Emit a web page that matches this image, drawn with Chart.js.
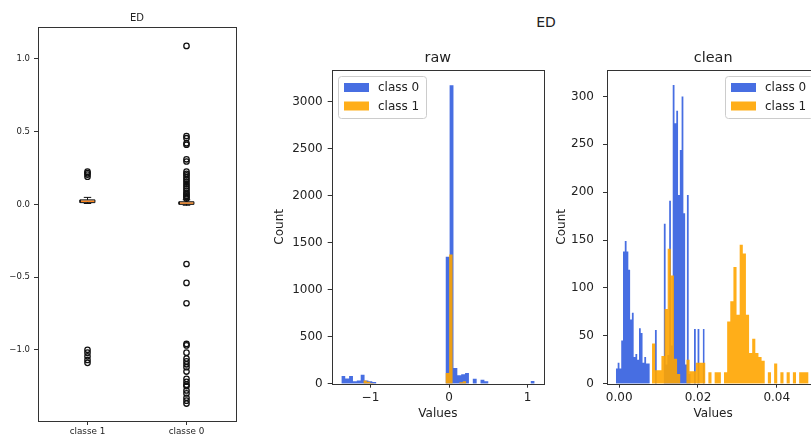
<!DOCTYPE html>
<html>
<head>
<meta charset="utf-8">
<script src="https://cdn.jsdelivr.net/npm/chart.js@4.4.1/dist/chart.umd.min.js"></script>
<style>
  body { margin: 0; width: 811px; height: 437px; overflow: hidden; background: #fff; position: relative; font-family: "DejaVu Sans", sans-serif; }
  canvas { position: absolute; top: 0; }
  #suptitle { position: absolute; left: 446px; top: 14px; width: 200px; text-align: center; font-size: 14px; line-height: 17px; color: #222; }
</style>
</head>
<body>
<div id="suptitle">ED</div>
<canvas id="boxChart" width="250" height="437" style="left:0px"></canvas>
<canvas id="rawChart" width="284" height="437" style="left:266px"></canvas>
<canvas id="cleanChart" width="280" height="437" style="left:550px"></canvas>
<script>
// boxplot (left panel)
const boxLabels = ['classe 1', 'classe 0'];
const boxPos = [1, 2];
const boxQ1 = [0.012, 0.0];
const boxMedian = [0.022, 0.009];
const boxQ3 = [0.031, 0.018];
const boxLow = [0.006, -0.006];
const boxHigh = [0.048, 0.032];
const outliers1 = [0.225, 0.215, 0.205, 0.19, -1.0, -1.02, -1.045, -1.07, -1.09];
const outliers0 = [1.09, 0.47, 0.455, 0.42, 0.41, 0.31, 0.295, 0.225, 0.21, 0.2, 0.185, 0.17, 0.155,
  0.14, 0.125, 0.11, 0.095, 0.08, 0.07, 0.06, 0.05, 0.04, -0.41, -0.54, -0.68, -0.96, -0.97, -1.02,
  -1.06, -1.08, -1.1, -1.12, -1.15, -1.2, -1.22, -1.24, -1.25, -1.28, -1.3, -1.33, -1.35, -1.37];
const boxYTicks = [-1.0, -0.5, 0.0, 0.5, 1.0];

// raw histogram
const rawXTicks = [-1, 0, 1];
const rawYTicks = [0, 500, 1000, 1500, 2000, 2500, 3000];
const rawRange0 = [-1.37, 1.09];
const rawCounts0 = [82, 55, 82, 25, 35, 96, 35, 25, 18, 0, 0, 0, 0, 0, 0, 0, 0, 0, 0, 0, 0, 0, 0, 0, 0, 0, 0,
  1350, 3175, 167, 89, 100, 114, 0, 53, 0, 43, 25, 0, 0, 0, 0, 0, 0, 0, 0, 0, 0, 0, 28];
const rawRange1 = [-1.09, 0.22];
const rawCounts1 = [35, 20, 8, 0, 0, 0, 0, 0, 0, 0, 0, 0, 0, 0, 0, 0, 0, 0, 0, 0, 0, 0, 0, 0,
  114, 1375, 0, 0, 15, 25];

// clean histogram
const cleanXTicks = [0.0, 0.02, 0.04];
const cleanYTicks = [0, 50, 100, 150, 200, 250, 300];
const cleanRange0 = [-0.00084, 0.0217];
const cleanCounts0 = [16, 22, 16, 45, 138, 149, 138, 119, 67, 74, 28, 31, 25, 58, 53, 22, 28, 21, 21, 0, 0, 0,
  56, 0, 0, 0, 0, 167, 20, 30, 191, 40, 312, 272, 285, 197, 244, 300, 178, 20, 197, 10, 0, 0, 57, 0, 57, 0, 0, 57];
const cleanRange1 = [0.00833, 0.04807];
const cleanCounts1 = [42, 14, 14, 29, 78, 141, 113, 26, 10, 0, 0, 25, 13, 13, 22, 22, 22, 0, 12, 0, 12, 12, 0,
  12, 65, 86, 122, 72, 145, 136, 72, 32, 47, 32, 28, 24, 0, 12, 0, 21, 0, 12, 0, 12, 0, 12, 0, 12, 12, 12];

const blue = 'rgba(65, 105, 225, 0.97)';
const orange = 'rgba(255, 165, 0, 0.9)';
const textColor = '#222';
const font = '"DejaVu Sans", sans-serif';

function fmt(v, digits) {
  return v.toFixed(digits).replace('-', '\u2212');
}

function histPoints(range, counts) {
  const w = (range[1] - range[0]) / counts.length;
  const pts = [{x: range[0], y: 0}];
  counts.forEach((c, i) => pts.push({x: range[0] + i * w, y: c}));
  pts.push({x: range[1], y: counts[counts.length - 1]});
  pts.push({x: range[1], y: 0});
  return pts;
}

// order: higher is drawn first, so class 1 ends up on top like in matplotlib
function histDataset(label, range, counts, color, order) {
  return {
    label: label,
    data: histPoints(range, counts),
    backgroundColor: color,
    borderWidth: 0,
    pointRadius: 0,
    fill: 'origin',
    stepped: true,
    order: order
  };
}

// axes frame on all four sides
const frame = {
  id: 'frame',
  afterDatasetsDraw(chart) {
    const a = chart.chartArea;
    const ctx = chart.ctx;
    ctx.save();
    ctx.strokeStyle = '#333';
    ctx.lineWidth = 1;
    ctx.strokeRect(Math.round(a.left) + 0.5, Math.round(a.top) + 0.5, Math.round(a.right - a.left), Math.round(a.bottom - a.top));
    ctx.restore();
  }
};

const axTitle = {
  id: 'axTitle',
  afterDraw(chart, args, opts) {
    const a = chart.chartArea;
    const ctx = chart.ctx;
    ctx.save();
    ctx.fillStyle = textColor;
    ctx.font = opts.size + 'px ' + font;
    ctx.textAlign = 'center';
    ctx.textBaseline = 'middle';
    ctx.fillText(opts.text, (a.left + a.right) / 2, a.top - opts.gap);
    ctx.restore();
  }
};

const boxLegend = {
  id: 'boxLegend',
  afterDraw(chart, args, opts) {
    if (!opts.side) return;
    const a = chart.chartArea;
    const ctx = chart.ctx;
    const w = 88, h = 42;
    const x = Math.round(opts.side === 'left' ? a.left + 6 : a.right - 6 - w);
    const y = Math.round(a.top + 6);
    ctx.save();
    ctx.fillStyle = 'rgba(255,255,255,0.8)';
    ctx.strokeStyle = '#cccccc';
    ctx.beginPath();
    ctx.roundRect(x + 0.5, y + 0.5, w, h, 3);
    ctx.fill();
    ctx.stroke();
    ctx.font = '12px ' + font;
    ctx.textBaseline = 'middle';
    chart.data.datasets.forEach((ds, i) => {
      ctx.fillStyle = ds.backgroundColor;
      ctx.fillRect(x + 6, y + 7 + i * 18.5, 25, 9);
      ctx.fillStyle = textColor;
      ctx.fillText(ds.label, x + 40, y + 12 + i * 18.5);
    });
    ctx.restore();
  }
};

function tickAxis(ticks, fmtFn, size, pad, extra) {
  return Object.assign({
    type: 'linear',
    border: {display: false},
    grid: {drawOnChartArea: false, drawTicks: true, tickLength: 4, color: '#333'},
    afterBuildTicks: s => { s.ticks = ticks.map(v => ({value: v})); },
    ticks: {callback: fmtFn, color: textColor, font: {family: font, size: size}, padding: pad, maxRotation: 0, autoSkip: false}
  }, extra);
}

// ---- boxplot ----
const boxSets = [];
const halfW = 0.075;
boxPos.forEach((p, i) => {
  const line = (pts, color, wdt) => ({
    data: pts, borderColor: color, borderWidth: wdt, pointRadius: 0, showLine: true, fill: false
  });
  boxSets.push(line([{x: p - halfW, y: boxQ1[i]}, {x: p + halfW, y: boxQ1[i]}, {x: p + halfW, y: boxQ3[i]},
    {x: p - halfW, y: boxQ3[i]}, {x: p - halfW, y: boxQ1[i]}], '#111', 1));
  boxSets.push(line([{x: p, y: boxQ3[i]}, {x: p, y: boxHigh[i]}], '#111', 1));
  boxSets.push(line([{x: p, y: boxQ1[i]}, {x: p, y: boxLow[i]}], '#111', 1));
  boxSets.push(line([{x: p - halfW / 2, y: boxHigh[i]}, {x: p + halfW / 2, y: boxHigh[i]}], '#111', 1));
  boxSets.push(line([{x: p - halfW / 2, y: boxLow[i]}, {x: p + halfW / 2, y: boxLow[i]}], '#111', 1));
  boxSets.push(line([{x: p - halfW, y: boxMedian[i]}, {x: p + halfW, y: boxMedian[i]}], '#ff7f0e', 1.5));
});
[outliers1, outliers0].forEach((vals, i) => {
  boxSets.push({
    data: vals.map(v => ({x: boxPos[i], y: v})),
    showLine: false,
    pointStyle: 'circle',
    pointRadius: 2.7,
    pointBorderWidth: 1.3,
    pointBorderColor: '#111',
    pointBackgroundColor: 'rgba(0,0,0,0)'
  });
});

new Chart(document.getElementById('boxChart'), {
  type: 'line',
  data: {datasets: boxSets},
  options: {
    responsive: false, animation: false, events: [],
    layout: {padding: {top: 27, right: 14, left: 0, bottom: 0}},
    plugins: {legend: {display: false}, tooltip: {enabled: false},
      axTitle: {text: 'ED', size: 10, gap: 9}},
    scales: {
      x: tickAxis(boxPos, v => boxLabels[boxPos.indexOf(v)], 8.8, 1, {min: 0.5, max: 2.5,
        afterFit: s => { s.height = 16; }}),
      y: tickAxis(boxYTicks, v => fmt(v, 1), 8.5, 4, {min: -1.49, max: 1.22,
        afterFit: s => { s.width = 38; }})
    }
  },
  plugins: [frame, axTitle]
});

// ---- raw histogram ----
new Chart(document.getElementById('rawChart'), {
  type: 'line',
  data: {datasets: [
    histDataset('class 0', rawRange0, rawCounts0, blue, 2),
    histDataset('class 1', rawRange1, rawCounts1, orange, 1)
  ]},
  options: {
    responsive: false, animation: false, events: [],
    layout: {padding: {top: 70, right: 6, left: 0, bottom: 0}},
    plugins: {legend: {display: false}, tooltip: {enabled: false},
      axTitle: {text: 'raw', size: 14.4, gap: 12}, boxLegend: {side: 'left'}},
    scales: {
      x: tickAxis(rawXTicks, v => fmt(v, 0), 12, 3, {min: -1.493, max: 1.209,
        title: {display: true, text: 'Values', color: textColor, font: {family: font, size: 12}, padding: {top: 0, bottom: 16}},
        afterFit: s => { s.height = 53.3; }}),
      y: tickAxis(rawYTicks, v => String(v), 12, 5, {min: 0, max: 3337,
        title: {display: true, text: 'Count', color: textColor, font: {family: font, size: 12}, padding: {top: 7, bottom: 0}},
        afterFit: s => { s.width = 65.7; }})
    }
  },
  plugins: [frame, axTitle, boxLegend]
});

// ---- clean histogram ----
new Chart(document.getElementById('cleanChart'), {
  type: 'line',
  data: {datasets: [
    histDataset('class 0', cleanRange0, cleanCounts0, blue, 2),
    histDataset('class 1', cleanRange1, cleanCounts1, orange, 1)
  ]},
  options: {
    responsive: false, animation: false, events: [],
    layout: {padding: {top: 70, right: 10.7, left: 0, bottom: 0}},
    plugins: {legend: {display: false}, tooltip: {enabled: false},
      axTitle: {text: 'clean', size: 14.4, gap: 12}, boxLegend: {side: 'right'}},
    scales: {
      x: tickAxis(cleanXTicks, v => fmt(v, 2), 12, 3, {min: -0.0031, max: 0.0508,
        title: {display: true, text: 'Values', color: textColor, font: {family: font, size: 12}, padding: {top: 0, bottom: 16}},
        afterFit: s => { s.height = 53.3; }}),
      y: tickAxis(cleanYTicks, v => String(v), 12, 9, {min: 0, max: 327.6,
        title: {display: true, text: 'Count', color: textColor, font: {family: font, size: 12}, padding: {top: 4.5, bottom: 0}},
        afterFit: s => { s.width = 57; }})
    }
  },
  plugins: [frame, axTitle, boxLegend]
});
</script>
</body>
</html>
